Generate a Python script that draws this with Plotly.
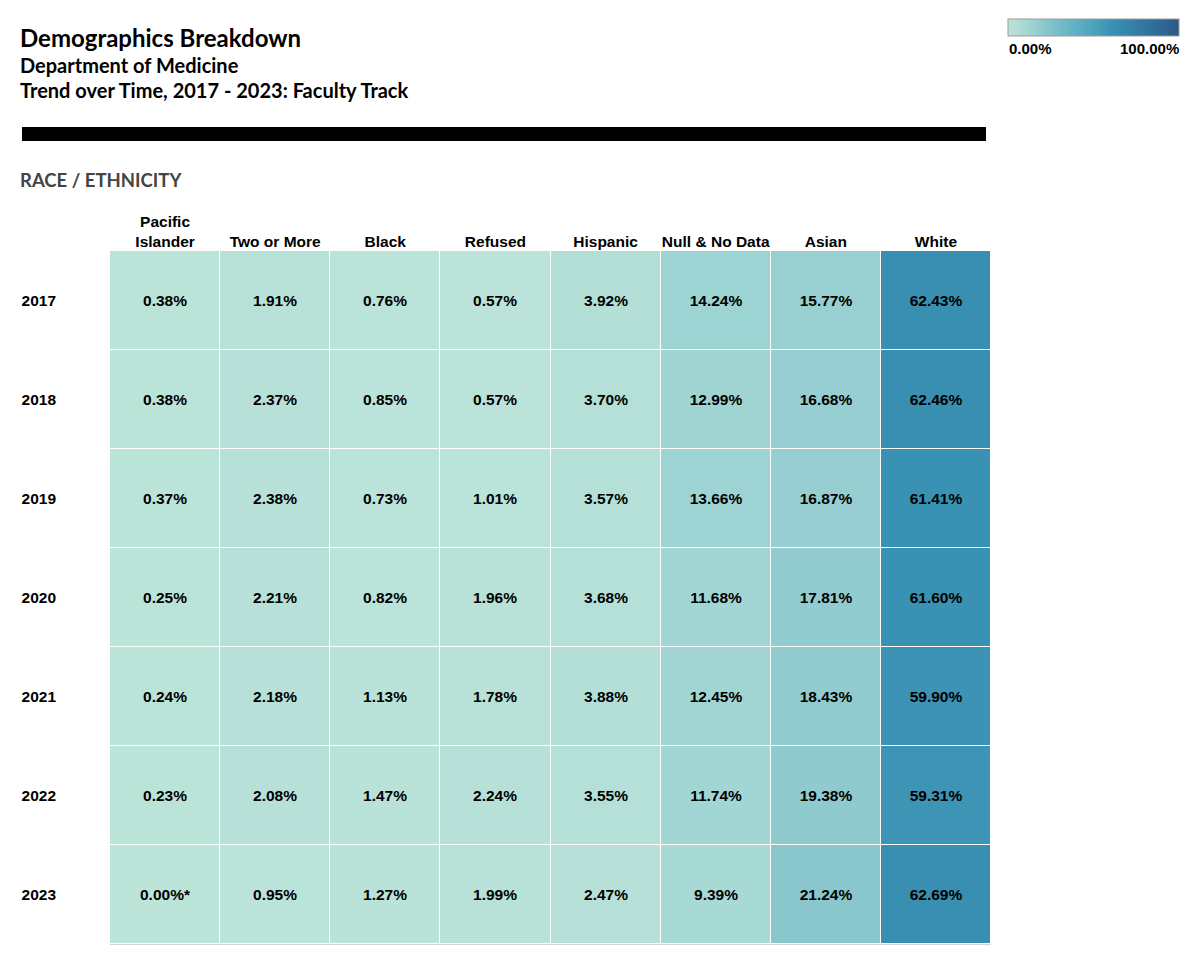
import plotly.graph_objects as go

categories = ["Pacific<br>Islander", "Two or More", "Black", "Refused", "Hispanic",
              "Null & No Data", "Asian", "White"]
years = ["2017", "2018", "2019", "2020", "2021", "2022", "2023"]

v2017 = [0.38, 1.91, 0.76, 0.57, 3.92, 14.24, 15.77, 62.43]
v2018 = [0.38, 2.37, 0.85, 0.57, 3.70, 12.99, 16.68, 62.46]
v2019 = [0.37, 2.38, 0.73, 1.01, 3.57, 13.66, 16.87, 61.41]
v2020 = [0.25, 2.21, 0.82, 1.96, 3.68, 11.68, 17.81, 61.60]
v2021 = [0.24, 2.18, 1.13, 1.78, 3.88, 12.45, 18.43, 59.90]
v2022 = [0.23, 2.08, 1.47, 2.24, 3.55, 11.74, 19.38, 59.31]
v2023 = [0.00, 0.95, 1.27, 1.99, 2.47, 9.39, 21.24, 62.69]

z = [v2017, v2018, v2019, v2020, v2021, v2022, v2023]
footnoted = {("2023", 0)}  # cells flagged with an asterisk

text = []
for yi, row in zip(years, z):
    text.append([f"{v:.2f}%" + ("*" if (yi, ci) in footnoted else "") for ci, v in enumerate(row)])

colorscale = [
    [0.0, "#bce4d9"],
    [0.14, "#9dd3d3"],
    [0.21, "#8bc7cd"],
    [0.40, "#5fb0c3"],
    [0.62, "#3890b3"],
    [1.0, "#2b5986"],
]

W, H = 1200, 960
OFF = 8  # page body margin
def px(x):
    return (x - OFF) / W
def py(y):
    return 1 - (y - OFF) / H

ARIAL = "Liberation Sans, Arial, sans-serif"
TITLE = "Lato, sans-serif"

fig = go.Figure(go.Heatmap(
    z=z, x=categories, y=years,
    text=text, texttemplate="<b>%{text}</b>",
    textfont=dict(family=ARIAL, size=15.5, color="black"),
    colorscale=colorscale, zmin=0, zmax=100,
    xgap=1, ygap=1,
    hovertemplate="%{y} %{x}: %{text}<extra></extra>",
    colorbar=dict(
        orientation="h", x=px(1008), xanchor="left", y=py(19), yanchor="top",
        thickness=17, thicknessmode="pixels", len=171, lenmode="pixels",
        outlinecolor="#a09a94", outlinewidth=1,
        showticklabels=False, ticks="", xpad=0, ypad=0,
    ),
))

fig.update_layout(
    width=W, height=H,
    margin=dict(l=0, r=0, t=0, b=0),
    paper_bgcolor="white", plot_bgcolor="white",
    xaxis=dict(domain=[px(110), px(991)], side="top", showgrid=False, zeroline=False,
               showline=False, ticks="", automargin=False, ticklabelstandoff=0,
               tickfont=dict(family=ARIAL, size=15.5, color="black", weight="bold")),
    yaxis=dict(domain=[py(944), py(251)], autorange="reversed", showgrid=False,
               zeroline=False, showline=False, ticks="", automargin=False,
               ticklabelstandoff=53,
               tickfont=dict(family=ARIAL, size=15.5, color="black", weight="bold")),
    shapes=[
        dict(type="rect", xref="paper", yref="paper", x0=px(22), x1=px(986),
             y0=py(127), y1=py(141), fillcolor="black", line=dict(width=0)),
        dict(type="line", xref="paper", yref="paper", x0=px(110), x1=px(991),
             y0=py(944.5), y1=py(944.5), line=dict(color="#d4d4d4", width=1)),
    ],
    annotations=[
        dict(text="<b>Demographics Breakdown</b>", x=px(18), y=py(21), xref="paper", yref="paper",
             xanchor="left", yanchor="top", showarrow=False,
             font=dict(family=TITLE, size=24, color="black")),
        dict(text="<b>Department of Medicine</b>", x=px(18), y=py(50.5), xref="paper", yref="paper",
             xanchor="left", yanchor="top", showarrow=False,
             font=dict(family=TITLE, size=20, color="black")),
        dict(text="<b>Trend over Time, 2017 - 2023: Faculty Track</b>", x=px(18), y=py(76.5),
             xref="paper", yref="paper", xanchor="left", yanchor="top", showarrow=False,
             font=dict(family=TITLE, size=20, color="black")),
        dict(text="<b>RACE / ETHNICITY</b>", x=px(18), y=py(167), xref="paper", yref="paper",
             xanchor="left", yanchor="top", showarrow=False,
             font=dict(family=TITLE, size=18.5, color="#444444")),
        dict(text="<b>0.00%</b>", x=px(1007), y=py(38), xref="paper", yref="paper",
             xanchor="left", yanchor="top", showarrow=False,
             font=dict(family=ARIAL, size=15, color="black")),
        dict(text="<b>100.00%</b>", x=px(1181), y=py(38), xref="paper", yref="paper",
             xanchor="right", yanchor="top", showarrow=False,
             font=dict(family=ARIAL, size=15, color="black")),
    ],
)

fig.write_html("out.html")
